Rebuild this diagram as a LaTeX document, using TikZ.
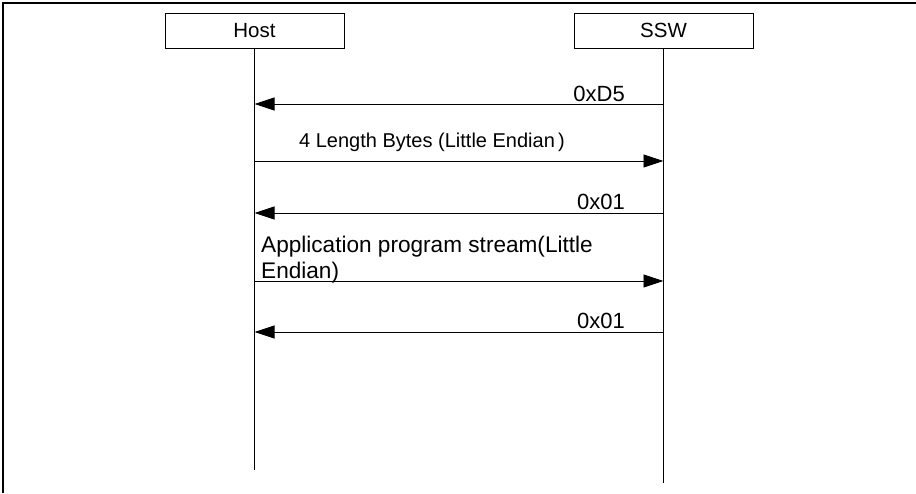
\documentclass[tikz,border=0pt]{standalone}
\usepackage{fontspec}
\setmainfont{Liberation Sans}
\usetikzlibrary{arrows.meta,positioning}

\begin{document}
\begin{tikzpicture}[x=1pt,y=-1pt]
\tikzset{obj/.style={draw,line width=0.8pt,minimum width=179pt,minimum height=35pt,inner sep=0pt,font=\fontsize{20.5}{24}\selectfont},
msg/.style={line width=0.8pt,-{Triangle[length=20pt,width=13pt]}},
lbl/.style={inner sep=1pt,font=\fontsize{22}{26}\selectfont}}
\useasboundingbox(0,0)rectangle(916,493);
\draw[line width=1.2pt](3,493)--(3,3)--(916,3);
\node[obj](host)at(254.5,30.5){Host};
\node[obj](ssw)at(663.5,30.5){SSW};
\coordinate(hostend)at(254.5,470);
\coordinate(sswend)at(663.5,483);
\draw[line width=0.8pt](host)--(hostend)
(ssw)--(sswend);
\coordinate(h1)at(254.5,104);
\coordinate(s1)at(663.5,104);
\coordinate(h2)at(254.5,161);
\coordinate(s2)at(663.5,161);
\coordinate(h3)at(254.5,213);
\coordinate(s3)at(663.5,213);
\coordinate(h4)at(254.5,281);
\coordinate(s4)at(663.5,281);
\coordinate(h5)at(254.5,332);
\coordinate(s5)at(663.5,332);
\draw[msg](s1)--(h1);
\draw[msg](h2)--(s2);
\draw[msg](s3)--(h3);
\draw[msg](h4)--(s4);
\draw[msg](s5)--(h5);
\node[lbl,anchor=south east](d5)at(626,103){0xD5};
\node[lbl,anchor=south west,font=\fontsize{20}{24}\selectfont](len)at(298,153){4 Length Bytes (Little Endian\,)};
\node[lbl,anchor=south east](ack1)at(626,211){0x01};
\node[lbl,anchor=south west,align=left,font=\fontsize{22.6}{26}\selectfont](app)at(260,284){Application program stream(Little\\Endian)};
\node[lbl,anchor=south east](ack2)at(626,330){0x01};
\end{tikzpicture}
\end{document}
